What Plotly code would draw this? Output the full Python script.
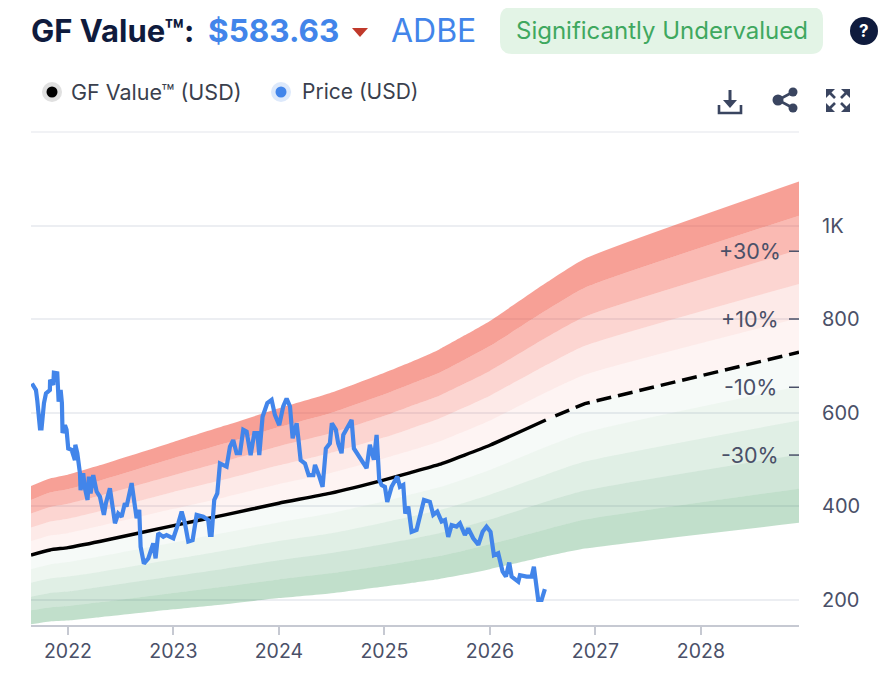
import plotly.graph_objects as go

# Decimal years for the GF value curve and its bands
band_years = [2021.65, 2021.83, 2022.00, 2022.30, 2023.00, 2023.49, 2024.00, 2024.48,
              2025.00, 2025.24, 2025.52, 2025.76, 2026.00, 2026.53, 2026.90, 2028.93]
gf_value = [296, 307, 312, 325, 359, 382, 407, 428, 457, 472, 490, 510, 531, 585, 620, 730]

# dashed projection starts a little after the solid part ends
projection_years = [2026.62, 2026.90, 2028.93]
projection_value = [594, 620, 730]

upper_50 = [444, 460, 468, 488, 538, 573, 610, 642, 686, 708, 736, 766, 797, 878, 930, 1095]
upper_40 = [414, 430, 437, 455, 503, 535, 570, 599, 640, 661, 686, 714, 743, 819, 868, 1022]
upper_30 = [385, 399, 406, 423, 467, 497, 529, 556, 594, 614, 637, 663, 690, 761, 806, 949]
upper_20 = [355, 368, 374, 390, 431, 458, 488, 514, 548, 566, 588, 612, 637, 702, 744, 876]
upper_10 = [326, 338, 343, 358, 395, 420, 448, 471, 503, 519, 539, 561, 584, 644, 682, 803]
lower_10 = [266, 276, 281, 293, 323, 344, 366, 385, 411, 425, 441, 459, 478, 527, 558, 657]
lower_20 = [237, 246, 250, 260, 287, 306, 326, 342, 366, 378, 392, 408, 425, 468, 496, 584]
lower_30 = [207, 215, 218, 228, 251, 267, 285, 300, 320, 330, 343, 357, 372, 410, 434, 511]
lower_40 = [178, 184, 187, 195, 215, 229, 244, 257, 274, 283, 294, 306, 319, 351, 372, 438]
lower_50 = [148, 154, 156, 163, 180, 191, 204, 214, 229, 236, 245, 255, 266, 293, 310, 365]

price_years = [
    2021.659, 2021.697, 2021.709, 2021.735, 2021.750, 2021.773, 2021.792, 2021.829, 2021.831, 2021.861,
    2021.867, 2021.899, 2021.912, 2021.931, 2021.943, 2021.949, 2021.972, 2021.987, 2022.003, 2022.035,
    2022.066, 2022.070, 2022.089, 2022.114, 2022.120, 2022.145, 2022.161, 2022.186, 2022.199, 2022.215,
    2022.240, 2022.272, 2022.303, 2022.341, 2022.360, 2022.398, 2022.423, 2022.446, 2022.477, 2022.509,
    2022.540, 2022.556, 2022.604, 2022.635, 2022.651, 2022.676, 2022.689, 2022.720, 2022.762, 2022.809,
    2022.831, 2022.856, 2022.904, 2022.935, 2022.999, 2023.046, 2023.078, 2023.109, 2023.141, 2023.182,
    2023.220, 2023.283, 2023.330, 2023.346, 2023.362, 2023.387, 2023.416, 2023.441, 2023.504, 2023.536,
    2023.567, 2023.599, 2023.631, 2023.662, 2023.694, 2023.732, 2023.767, 2023.795, 2023.814, 2023.845,
    2023.890, 2023.931, 2023.962, 2024.003, 2024.041, 2024.073, 2024.105, 2024.130, 2024.168, 2024.184,
    2024.206, 2024.247, 2024.282, 2024.326, 2024.342, 2024.379, 2024.414, 2024.445, 2024.483, 2024.502,
    2024.540, 2024.562, 2024.594, 2024.610, 2024.641, 2024.689, 2024.711, 2024.768, 2024.799, 2024.831,
    2024.862, 2024.900, 2024.926, 2024.951, 2024.973, 2025.005, 2025.027, 2025.068, 2025.122, 2025.147,
    2025.179, 2025.198, 2025.226, 2025.258, 2025.305, 2025.375, 2025.431, 2025.463, 2025.501, 2025.542,
    2025.574, 2025.605, 2025.637, 2025.684, 2025.716, 2025.763, 2025.795, 2025.842, 2025.890, 2025.931,
    2025.968, 2026.006, 2026.038, 2026.079, 2026.120, 2026.152, 2026.183, 2026.206, 2026.269, 2026.285,
    2026.348, 2026.395, 2026.417, 2026.443, 2026.458, 2026.490, 2026.521,
]
price = [
    663, 649, 628, 567, 567, 621, 642, 649, 671, 660,
    686, 685, 624, 649, 621, 557, 574, 564, 524, 521,
    499, 532, 514, 471, 435, 471, 439, 414, 464, 428,
    467, 432, 421, 382, 407, 439, 400, 364, 385, 378,
    407, 400, 450, 400, 375, 393, 314, 278, 289, 321,
    289, 343, 335, 339, 332, 364, 389, 364, 325, 328,
    382, 378, 371, 339, 339, 414, 428, 492, 485, 528,
    542, 514, 514, 564, 560, 510, 557, 557, 510, 592,
    621, 628, 596, 574, 614, 631, 614, 546, 578, 546,
    499, 492, 467, 467, 489, 467, 442, 524, 535, 578,
    564, 535, 514, 553, 564, 585, 524, 503, 492, 482,
    532, 500, 553, 457, 446, 442, 410, 442, 464, 442,
    446, 385, 400, 346, 350, 414, 410, 382, 389, 368,
    371, 335, 360, 357, 364, 339, 353, 332, 318, 346,
    357, 346, 296, 300, 261, 250, 280, 250, 239, 253,
    250, 250, 271, 229, 200, 200, 223,
]

year_ticks = [2022, 2023, 2024, 2025, 2026, 2027, 2028]
value_ticks = [200, 400, 600, 800, 1000]
value_labels = ['200', '400', '600', '800', '1K']
pct_labels = ['+30%', '+10%', '-10%', '-30%']
pct_levels = [946, 801, 655, 510]

W, H = 874, 674
TEXT = '#4a5068'
ICON = '#3a4560'
NAVY = '#0f1b3d'
BLUE = '#4285ea'
GRID = '#eceef2'


# pixel position in the screenshot -> paper fraction (page has an 8px body margin)
def px(x):
    return (x - 8) / W


def py(y):
    return 1 - (y - 8) / H


def path(points, close=False):
    s = 'M' + ' L'.join(f'{px(x):.5f},{py(y):.5f}' for x, y in points)
    return s + (' Z' if close else '')


def rounded(x0, y0, x1, y1, r):
    return (f'M{px(x0 + r):.5f},{py(y0):.5f} L{px(x1 - r):.5f},{py(y0):.5f} '
            f'Q{px(x1):.5f},{py(y0):.5f} {px(x1):.5f},{py(y0 + r):.5f} '
            f'L{px(x1):.5f},{py(y1 - r):.5f} Q{px(x1):.5f},{py(y1):.5f} {px(x1 - r):.5f},{py(y1):.5f} '
            f'L{px(x0 + r):.5f},{py(y1):.5f} Q{px(x0):.5f},{py(y1):.5f} {px(x0):.5f},{py(y1 - r):.5f} '
            f'L{px(x0):.5f},{py(y0 + r):.5f} Q{px(x0):.5f},{py(y0):.5f} {px(x0 + r):.5f},{py(y0):.5f} Z')


fig = go.Figure()

# bands: lower edge, upper edge, colour
bands = [
    (upper_40, upper_50, 'rgba(240,65,45,0.50)'),
    (upper_30, upper_40, 'rgba(240,65,45,0.36)'),
    (upper_20, upper_30, 'rgba(240,65,45,0.22)'),
    (upper_10, upper_20, 'rgba(240,65,45,0.11)'),
    (gf_value, upper_10, 'rgba(240,65,45,0.06)'),
    (lower_10, gf_value, 'rgba(34,139,70,0.04)'),
    (lower_20, lower_10, 'rgba(34,139,70,0.08)'),
    (lower_30, lower_20, 'rgba(34,139,70,0.14)'),
    (lower_40, lower_30, 'rgba(34,139,70,0.21)'),
    (lower_50, lower_40, 'rgba(34,139,70,0.28)'),
]
edge = dict(width=0, shape='spline', smoothing=0.5)
for low, high, color in bands:
    fig.add_trace(go.Scatter(x=band_years, y=low, mode='lines', line=edge, hoverinfo='skip'))
    fig.add_trace(go.Scatter(x=band_years, y=high, mode='lines', line=edge, fill='tonexty',
                             fillcolor=color, hoverinfo='skip'))

# GF value: solid up to today, dashed for the projection
fig.add_trace(go.Scatter(x=band_years[:14], y=gf_value[:14], mode='lines', name='GF Value™ (USD)',
                         line=dict(color='black', width=3.5, shape='spline', smoothing=0.5)))
fig.add_trace(go.Scatter(x=projection_years, y=projection_value, mode='lines',
                         line=dict(color='black', width=3.5, dash='15px,7px')))
fig.add_trace(go.Scatter(x=price_years, y=price, mode='lines', name='Price (USD)',
                         line=dict(color=BLUE, width=4.2)))

fig.update_layout(
    width=W, height=H, showlegend=False, plot_bgcolor='white', paper_bgcolor='white',
    margin=dict(l=0, r=0, t=0, b=0),
    font=dict(family='Inter, Roboto, sans-serif', color=TEXT, size=20),
    xaxis=dict(domain=[px(31), px(799)], range=[2021.65, 2028.93], tickvals=year_ticks,
               ticktext=[str(y) for y in year_ticks], showgrid=False, zeroline=False,
               showline=True, linecolor='#c6c9d2', linewidth=2, ticks='outside', ticklen=8,
               tickcolor='#c6c9d2', tickwidth=1.5, tickfont=dict(size=19.5, color=TEXT), automargin=False),
    yaxis=dict(domain=[py(625), py(132)], range=[146.5, 1201], side='right', tickvals=value_ticks,
               ticktext=value_labels, gridcolor=GRID, gridwidth=1.5, zeroline=False, showline=False,
               ticks='outside', ticklen=18, tickcolor='rgba(0,0,0,0)', tickfont=dict(size=20, color=TEXT),
               automargin=False),
)


def label(x, y, text, size, color, bold=False, anchor='left'):
    fig.add_annotation(x=px(x), y=py(y), xref='paper', yref='paper', text=f'<b>{text}</b>' if bold else text,
                       showarrow=False, xanchor=anchor, yanchor='middle',
                       font=dict(size=size, color=color), borderpad=0, borderwidth=0)


shapes = []


def line_path(points, color=ICON, width=2.6, close=False):
    shapes.append(dict(type='path', path=path(points, close), xref='paper', yref='paper',
                       line=dict(color=color, width=width)))


def solid(points, color=ICON):
    shapes.append(dict(type='path', path=path(points, True), xref='paper', yref='paper',
                       fillcolor=color, line=dict(width=0)))


def dot(x, y, r, color):
    shapes.append(dict(type='circle', xref='paper', yref='paper', x0=px(x - r), x1=px(x + r),
                       y0=py(y + r), y1=py(y - r), fillcolor=color, line=dict(width=0)))


# top gridline sits right on the edge of the plot, plotly drops it as a tick
line_path([(31, 132), (799, 132)], color=GRID, width=1.5)

# header
label(31, 30, 'GF Value™:', 31, NAVY, bold=True)
label(208, 30, '$583.63', 31.5, BLUE, bold=True)
solid([(352, 28), (368, 28), (360, 37)], '#c0392b')
label(391, 30, 'ADBE', 32, BLUE)
shapes.append(dict(type='path', path=rounded(500, 7, 823, 54, 12), xref='paper', yref='paper',
                   fillcolor='#e3f4e6', line=dict(width=0)))
label(516, 30, 'Significantly Undervalued', 24, '#3fa85f')
dot(864, 31, 14, NAVY)
label(864, 31, '?', 17, 'white', bold=True, anchor='center')

# legend
dot(52, 92, 10, '#e0e0e0')
dot(52, 92, 5.5, 'black')
label(71, 92, 'GF Value™ (USD)', 21.5, '#3a3f4d')
dot(281, 92, 10, '#dde9fb')
dot(281, 92, 5.5, BLUE)
label(302, 92, 'Price (USD)', 21, '#3a3f4d')

# toolbar icons
line_path([(730, 90), (730, 103)], width=3)
solid([(723, 100), (737, 100), (730, 108)])
line_path([(719, 105), (719, 113), (741, 113), (741, 105)])
line_path([(793, 92), (778, 100), (793, 108)])
dot(793, 92, 4.5, ICON)
dot(778, 100, 5.5, ICON)
dot(793, 108, 4.5, ICON)
for cx, cy, sx, sy in [(826, 89, 1, 1), (850, 89, -1, 1), (826, 112, 1, -1), (850, 112, -1, -1)]:
    solid([(cx, cy), (cx + 9 * sx, cy), (cx, cy + 9 * sy)])
    line_path([(cx + 3 * sx, cy + 3 * sy), (cx + 9 * sx, cy + 9 * sy)])

# percentage labels with their small dashes
for text, level in zip(pct_labels, pct_levels):
    fig.add_annotation(x=px(750), y=level, xref='paper', yref='y', text=text, showarrow=False,
                       xanchor='center', yanchor='middle', font=dict(size=21.5, color=TEXT))
    shapes.append(dict(type='line', xref='paper', yref='y', x0=px(789), x1=px(799), y0=level, y1=level,
                       line=dict(color=TEXT, width=1.5)))

fig.update_layout(shapes=shapes)
fig.write_html('out.html', config=dict(displayModeBar=False))
